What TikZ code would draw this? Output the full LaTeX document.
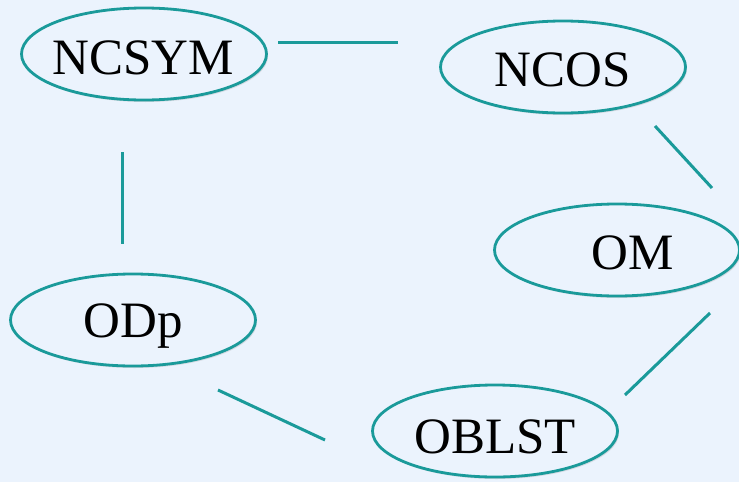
\documentclass[tikz,border=0pt]{standalone}
\usepackage{fontspec}
\setmainfont{Liberation Serif}
\usetikzlibrary{shapes.geometric,shadows}
\definecolor{bgblue}{HTML}{EBF3FD}
\definecolor{teal1}{HTML}{1A9A9A}
\tikzset{
  oval/.style={ellipse, draw=teal1, line width=2.8pt, fill=bgblue,
    minimum width=245pt, minimum height=92pt, inner sep=0pt,
    drop shadow={shadow xshift=1.5pt, shadow yshift=-2pt, opacity=0.18, fill=black!60}},
  label/.style={font=\fontsize{51}{51}\selectfont},
  link/.style={draw=teal1, line width=3pt}
}
\begin{document}
\begin{tikzpicture}[x=1pt,y=-1pt]
  \fill[bgblue] (0,0) rectangle (739,482);
  \useasboundingbox (0,0) rectangle (739,482);

  % the five categories
  \node[oval] (ncsym) at (144,54) {};
  \node[label] at (143,58) {NCSYM};
  \node[oval] (ncos) at (563,67) {};
  \node[label] at (563,70) {NCOS};
  \node[oval] (om) at (617,250) {};
  \node[label] at (633,253) {OM};
  \node[oval] (odp) at (133,320) {};
  \node[label] at (133,326) {ODp};
  \node[oval] (oblst) at (495,431) {};
  \node[label] at (495,437) {OBLST};

  % free-standing connector ends
  \coordinate (a1) at (278,42);  \coordinate (a2) at (398,42);
  \coordinate (b1) at (122,152); \coordinate (b2) at (122,244);
  \coordinate (c1) at (655,126); \coordinate (c2) at (712,188);
  \coordinate (d1) at (710,313); \coordinate (d2) at (625,395);
  \coordinate (e1) at (218,390); \coordinate (e2) at (325,440);

  \draw[link] (a1) -- (a2);
  \draw[link] (b1) -- (b2);
  \draw[link] (c1) -- (c2);
  \draw[link] (d1) -- (d2);
  \draw[link] (e1) -- (e2);
\end{tikzpicture}
\end{document}
